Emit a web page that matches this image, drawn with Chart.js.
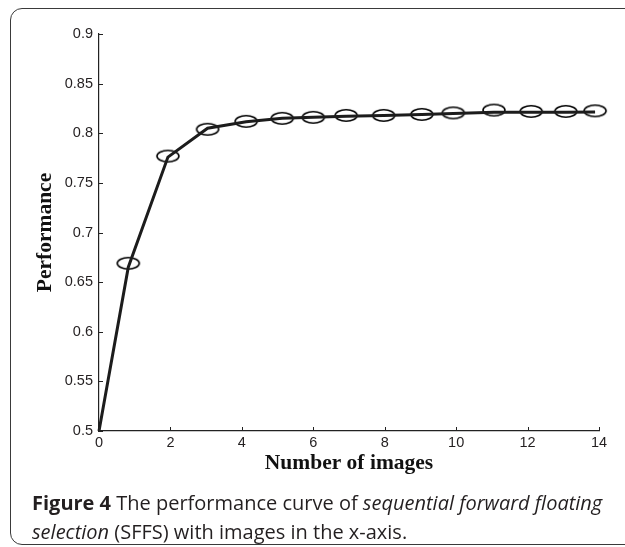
<!DOCTYPE html>
<html>
<head>
<meta charset="utf-8">
<script src="https://cdn.jsdelivr.net/npm/chart.js@4/dist/chart.umd.min.js"></script>
<style>
  html, body { margin: 0; padding: 0; background: #fff; overflow: hidden; }
  #wrap { position: relative; width: 625px; height: 547px; overflow: hidden; }
  #frame {
    position: absolute; left: 10px; top: 8px; width: 660px; height: 535px;
    border: 1.5px solid #3a3a3a; border-radius: 12px;
  }
  #myChart { position: absolute; left: 0; top: 0; }
  #caption {
    position: absolute; left: 32px; top: 488px; width: 600px;
    font-family: "Open Sans", "Noto Sans", sans-serif; font-size: 20px;
    line-height: 29px; color: #231f20; white-space: nowrap;
  }
</style>
</head>
<body>
<div id="wrap">
  <div id="frame"></div>
  <canvas id="myChart" width="625" height="547"></canvas>
  <div id="caption">
    <b>Figure 4</b> The performance curve of <i>sequential forward floating</i><br>
    <i>selection</i> (SFFS) with images in the x-axis.
  </div>
</div>
<script>
// values
var xVals = [0, 0.82, 1.93, 3.04, 4.12, 5.13, 6.0, 6.92, 7.97, 9.04, 9.92, 11.06, 12.1, 13.07, 13.89];
var lineVals = [0.5, 0.665, 0.776, 0.805, 0.8115, 0.815, 0.816, 0.8172, 0.8178, 0.8188, 0.8198, 0.8212, 0.8212, 0.8212, 0.8215];
var markerVals = [null, 0.669, 0.777, 0.804, 0.812, 0.815, 0.816, 0.818, 0.818, 0.819, 0.8205, 0.8233, 0.822, 0.822, 0.8226];
var xTicks = [0, 2, 4, 6, 8, 10, 12, 14];
var yTicks = [0.5, 0.55, 0.6, 0.65, 0.7, 0.75, 0.8, 0.85, 0.9];

var linePts = [];
var markPts = [];
for (var i = 0; i < xVals.length; i++) {
    linePts.push({ x: xVals[i], y: lineVals[i] });
    if (markerVals[i] !== null) markPts.push({ x: xVals[i], y: markerVals[i] });
}

// open ellipse marker
var ell = document.createElement('canvas');
ell.width = 26; ell.height = 15;
var ectx = ell.getContext('2d');
ectx.strokeStyle = '#000';
ectx.lineWidth = 1.6;
ectx.beginPath();
ectx.ellipse(13, 7.5, 11, 5.7, 0, 0, Math.PI * 2);
ectx.stroke();

// matlab style ticks pointing inside
var innerTicks = {
    id: 'innerTicks',
    afterDraw: function (chart) {
        var ctx = chart.ctx;
        var xs = chart.scales.x, ys = chart.scales.y;
        var a = chart.chartArea;
        ctx.save();
        ctx.strokeStyle = '#222';
        ctx.lineWidth = 1;
        xTicks.forEach(function (t) {
            var px = Math.round(xs.getPixelForValue(t)) + 0.5;
            ctx.beginPath();
            ctx.moveTo(px, a.bottom);
            ctx.lineTo(px, a.bottom - 4);
            ctx.stroke();
        });
        yTicks.forEach(function (t) {
            var py = Math.round(ys.getPixelForValue(t)) + 0.5;
            ctx.beginPath();
            ctx.moveTo(a.left, py);
            ctx.lineTo(a.left + 4, py);
            ctx.stroke();
        });
        ctx.restore();
    }
};

var tickFont = { family: '"Liberation Sans", Arial, sans-serif', size: 14.5 };
var titleFont = { family: '"Liberation Serif", "Times New Roman", serif', size: 21.5, weight: 'bold', lineHeight: 1.2 };

const config = {
    type: 'scatter',
    data: {
        datasets: [{
            label: 'curve',
            data: linePts,
            showLine: true,
            borderColor: '#1c1c1c',
            borderWidth: 3,
            pointRadius: 0,
            tension: 0,
            clip: false
        }, {
            label: 'points',
            data: markPts,
            showLine: false,
            pointStyle: ell,
            pointRadius: 8,
            clip: false
        }]
    },
    options: {
        responsive: false,
        animation: false,
        events: [],
        layout: { padding: { left: 0, top: 34, right: 26, bottom: 0 } },
        plugins: { legend: { display: false }, tooltip: { enabled: false } },
        scales: {
            x: {
                type: 'linear', min: 0, max: 14,
                afterBuildTicks: function (s) { s.ticks = xTicks.map(function (v) { return { value: v }; }); },
                afterFit: function (s) { s.height = 116; },
                ticks: { color: '#231f20', font: tickFont, padding: 3, maxRotation: 0,
                    callback: function (v) { return String(v); } },
                grid: { display: true, drawOnChartArea: false, drawTicks: false },
                border: { color: '#222', width: 1.2 },
                title: { display: true, text: 'Number of images', color: '#111', font: titleFont,
                    padding: { top: 0, bottom: 71 } }
            },
            y: {
                type: 'linear', min: 0.5, max: 0.9,
                afterBuildTicks: function (s) { s.ticks = yTicks.map(function (v) { return { value: v }; }); },
                afterFit: function (s) { s.width = 99; },
                ticks: { color: '#231f20', font: tickFont, padding: 6,
                    callback: function (v) { return String(v); } },
                grid: { display: true, drawOnChartArea: false, drawTicks: false },
                border: { color: '#222', width: 1.2 },
                title: { display: true, text: 'Performance', color: '#111', font: titleFont,
                    padding: { top: 33, bottom: 0 } }
            }
        }
    },
    plugins: [innerTicks]
};

const myChart = new Chart(document.getElementById('myChart'), config);
</script>
</body>
</html>
